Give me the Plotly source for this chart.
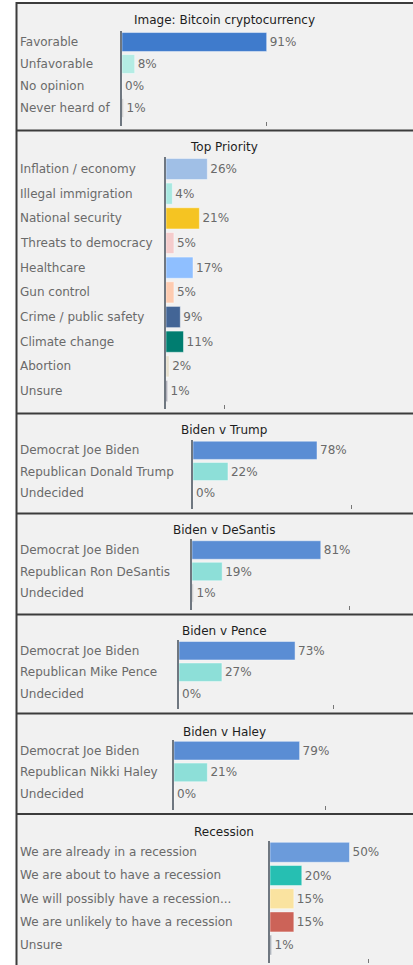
import plotly.graph_objects as go

W, H = 413, 965
FONT = "DejaVu Sans"
PX_PER_PCT = 1.59  # same horizontal scale in every panel

# ---- data ----
bitcoin_labels = ["Favorable", "Unfavorable", "No opinion", "Never heard of"]
bitcoin_values = [91, 8, 0, 1]
bitcoin_colors = ["#3f7bcc", "#b4ece4", "#c8c8c8", "#c8c8c8"]

priority_labels = ["Inflation / economy", "Illegal immigration", "National security",
                   "Threats to democracy", "Healthcare", "Gun control",
                   "Crime / public safety", "Climate change", "Abortion", "Unsure"]
priority_values = [26, 4, 21, 5, 17, 5, 9, 11, 2, 1]
priority_colors = ["#a0bfe6", "#a8e8e0", "#f5c422", "#f4cccc", "#8fbfff", "#fdcbb0",
                   "#436596", "#007d70", "#e6dfcc", "#9a9aa6"]

trump_labels = ["Democrat Joe Biden", "Republican Donald Trump", "Undecided"]
trump_values = [78, 22, 0]
desantis_labels = ["Democrat Joe Biden", "Republican Ron DeSantis", "Undecided"]
desantis_values = [81, 19, 1]
pence_labels = ["Democrat Joe Biden", "Republican Mike Pence", "Undecided"]
pence_values = [73, 27, 0]
haley_labels = ["Democrat Joe Biden", "Republican Nikki Haley", "Undecided"]
haley_values = [79, 21, 0]
matchup_colors = ["#5a8dd4", "#8ddfd8", "#c8c8c8"]

recession_labels = ["We are already in a recession", "We are about to have a recession",
                    "We will possibly have a recession...", "We are unlikely to have a recession",
                    "Unsure"]
recession_values = [50, 20, 15, 15, 1]
recession_colors = ["#6b9bdb", "#26bfb2", "#fae3a0", "#cc6358", "#9aa0aa"]

# single axis tick shown under each panel (in %)
panel_ticks = [91, 36.9, 99.4, 98.9, 97, 95.4, 61.9]

# ---- layout of panels (pixels) ----
panels = [
    dict(title="Image: Bitcoin cryptocurrency", labels=bitcoin_labels, values=bitcoin_values,
         colors=bitcoin_colors, title_y=20, first=42, step=22, bottom=126, axis_x=122),
    dict(title="Top Priority", labels=priority_labels, values=priority_values,
         colors=priority_colors, title_y=147, first=169, step=24.67, bottom=409, axis_x=166),
    dict(title="Biden v Trump", labels=trump_labels, values=trump_values,
         colors=matchup_colors, title_y=430, first=450.3, step=21.2, bottom=509, axis_x=193),
    dict(title="Biden v DeSantis", labels=desantis_labels, values=desantis_values,
         colors=matchup_colors, title_y=530, first=550, step=21.5, bottom=610, axis_x=192),
    dict(title="Biden v Pence", labels=pence_labels, values=pence_values,
         colors=matchup_colors, title_y=630.7, first=650.7, step=21.5, bottom=709.3, axis_x=179),
    dict(title="Biden v Haley", labels=haley_labels, values=haley_values,
         colors=matchup_colors, title_y=732, first=750.7, step=21.7, bottom=810, axis_x=174),
    dict(title="Recession", labels=recession_labels, values=recession_values,
         colors=recession_colors, title_y=831.7, first=852.3, step=23.2, bottom=963, axis_x=270),
]
borders_y = [3, 130.5, 413.5, 513.5, 614.5, 713.5, 814]

fig = go.Figure()
annotations = []
shapes = []
layout_axes = {}

# panel background + frame
shapes.append(dict(type="rect", xref="paper", yref="paper", x0=16 / W, x1=1.02,
                   y0=-0.01, y1=1 - borders_y[0] / H, fillcolor="#f1f1f1",
                   line=dict(width=0), layer="below"))
for by in borders_y:
    shapes.append(dict(type="line", xref="paper", yref="paper", x0=16 / W, x1=1.02,
                       y0=1 - by / H, y1=1 - by / H, line=dict(color="#3c3c3c", width=2),
                       layer="above"))
shapes.append(dict(type="line", xref="paper", yref="paper", x0=16.5 / W, x1=16.5 / W,
                   y0=-0.01, y1=1 - (borders_y[0] - 1) / H,
                   line=dict(color="#3c3c3c", width=2), layer="above"))

for i, p in enumerate(panels):
    n = i + 1
    xa = "x" if n == 1 else f"x{n}"
    ya = "y" if n == 1 else f"y{n}"
    rows = list(range(len(p["values"])))
    top_px = p["first"] - p["step"] / 2
    y_bottom = (p["bottom"] - top_px) / p["step"] - 0.5

    fig.add_trace(go.Bar(
        x=p["values"], y=rows, orientation="h",
        marker=dict(color=p["colors"], line=dict(color="rgba(255,255,255,0.45)", width=1)),
        width=0.86,
        text=[f"{v}%" for v in p["values"]], textposition="outside",
        textfont=dict(family=FONT, size=12, color="#6a6a6a"),
        constraintext="none", cliponaxis=False,
        hoverinfo="skip", showlegend=False,
        xaxis=xa, yaxis=ya,
    ))

    layout_axes["xaxis" if n == 1 else f"xaxis{n}"] = dict(
        domain=[p["axis_x"] / W, 1], range=[0, (W - p["axis_x"]) / PX_PER_PCT],
        anchor=ya, showgrid=False, zeroline=False, showline=False,
        showticklabels=False, ticks="inside", ticklen=4, tickwidth=1, tickcolor="#777",
        tickvals=[panel_ticks[i]], fixedrange=True,
    )
    layout_axes["yaxis" if n == 1 else f"yaxis{n}"] = dict(
        domain=[1 - p["bottom"] / H, 1 - top_px / H], range=[y_bottom, -0.5],
        anchor=xa, showgrid=False, zeroline=False, showticklabels=False,
        showline=True, linecolor="#6f7780", linewidth=2, fixedrange=True,
    )

    # category labels, left-aligned
    for r, lab in zip(rows, p["labels"]):
        annotations.append(dict(
            text=lab, xref="paper", yref=ya, x=18 / W, y=r, xanchor="left",
            yanchor="middle", showarrow=False,
            font=dict(family=FONT, size=12, color="#6a6a6a"),
        ))
    # panel title
    annotations.append(dict(
        text=p["title"], xref="paper", yref="paper", x=224 / W, y=1 - p["title_y"] / H,
        xanchor="center", yanchor="middle", showarrow=False,
        font=dict(family=FONT, size=12, color="#1e1e1e"),
    ))

fig.update_layout(
    width=W, height=H,
    margin=dict(l=0, r=0, t=0, b=0),
    paper_bgcolor="white", plot_bgcolor="rgba(0,0,0,0)",
    font=dict(family=FONT, size=12, color="#6a6a6a"),
    bargap=0.14, showlegend=False,
    shapes=shapes, annotations=annotations,
    **layout_axes,
)

# drop the default page margin so the figure sits at the window's top-left corner
fig.write_html("out.html", config={"displayModeBar": False},
               post_script="document.body.style.margin='0';document.body.style.overflow='hidden';")
